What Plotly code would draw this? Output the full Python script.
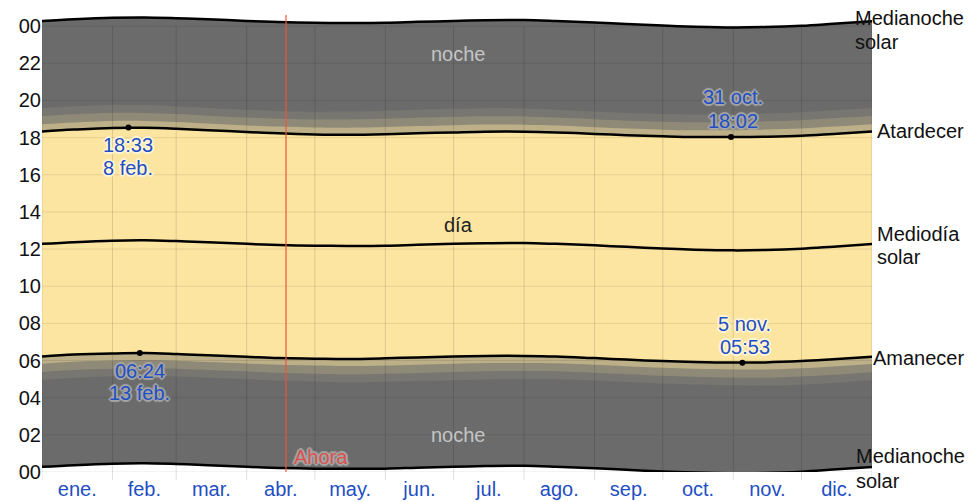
import plotly.graph_objects as go

# ---------------- data ----------------
# day of year (0 = 1 Jan) of the sample points
days = [0, 14, 31, 45, 59, 73, 90, 104, 120, 134, 151, 165, 181,
        195, 212, 226, 243, 257, 273, 287, 304, 318, 334, 348, 365]
# sunrise / sunset / solar noon in decimal hours
sunrise = [6.22, 6.32, 6.38, 6.40, 6.35, 6.28, 6.20, 6.13, 6.10, 6.08, 6.12, 6.17, 6.22,
           6.25, 6.25, 6.22, 6.13, 6.05, 5.97, 5.92, 5.89, 5.90, 5.97, 6.07, 6.20]
sunset = [18.33, 18.43, 18.52, 18.53, 18.48, 18.40, 18.30, 18.23, 18.17, 18.15, 18.18, 18.23, 18.28,
          18.32, 18.32, 18.28, 18.20, 18.13, 18.07, 18.03, 18.03, 18.05, 18.10, 18.20, 18.33]
noon = [12.28, 12.37, 12.45, 12.47, 12.43, 12.37, 12.28, 12.22, 12.18, 12.17, 12.18, 12.23, 12.28,
        12.32, 12.33, 12.28, 12.20, 12.12, 12.03, 11.97, 11.93, 11.95, 12.02, 12.13, 12.27]
# twilight durations (minutes beyond sunrise/sunset)
civil_min = [23.5, 23, 22.5, 22, 21.7, 21.5, 21.5, 21.8, 22.3, 22.8, 23.2, 23.5, 23.5,
             23.2, 22.7, 22.2, 21.7, 21.5, 21.5, 21.8, 22.3, 22.8, 23.2, 23.5, 23.5]
nautical_min = [50, 49.5, 49, 48, 47.5, 47, 47, 47.5, 48.5, 49.5, 50, 50.5, 50.5,
                50, 49, 48, 47.5, 47, 47, 47.5, 48.5, 49.5, 50, 50.5, 50]
astro_min = [76, 75.5, 74.5, 73.5, 72.5, 72, 72, 72.5, 73.5, 75, 76, 76.5, 76.5,
             76, 75, 73.5, 72.5, 72, 72, 72.5, 73.5, 75, 76, 76.5, 76]

month_starts = [0, 31, 59, 90, 120, 151, 181, 212, 243, 273, 304, 334, 365]
month_labels = ["ene.", "feb.", "mar.", "abr.", "may.", "jun.", "jul.",
                "ago.", "sep.", "oct.", "nov.", "dic."]
hour_ticks = list(range(0, 25, 2))
hour_labels = ["00", "02", "04", "06", "08", "10", "12", "14", "16", "18", "20", "22", "00"]

# extremes: (day, hours, time label, date label)
sunset_max = (38, 18.55, "18:33", "8 feb.")
sunrise_max = (43, 6.40, "06:24", "13 feb.")
sunset_min = (303, 18.033, "18:02", "31 oct.")
sunrise_min = (308, 5.883, "05:53", "5 nov.")
now_day = 107.3

# ---------------- derived curves ----------------
mid_bottom = [n - 12 for n in noon]
mid_top = [n + 12 for n in noon]
astro_dawn = [s - a / 60 for s, a in zip(sunrise, astro_min)]
naut_dawn = [s - a / 60 for s, a in zip(sunrise, nautical_min)]
civil_dawn = [s - a / 60 for s, a in zip(sunrise, civil_min)]
civil_dusk = [s + a / 60 for s, a in zip(sunset, civil_min)]
naut_dusk = [s + a / 60 for s, a in zip(sunset, nautical_min)]
astro_dusk = [s + a / 60 for s, a in zip(sunset, astro_min)]

NIGHT = "#6b6b6b"
ASTRO = "#787670"
NAUT = "#8f8a77"
CIVIL = "#bdb088"
DAY = "#fce4a1"
BLUE = "#1f4fc2"
FONT = "Liberation Sans, Arial, sans-serif"

fig = go.Figure()

# overlapping bands (each painted over the previous one -> no seams)
bands = [
    (mid_bottom, mid_top, NIGHT),
    (astro_dawn, astro_dusk, ASTRO),
    (naut_dawn, naut_dusk, NAUT),
    (civil_dawn, civil_dusk, CIVIL),
    (sunrise, sunset, DAY),
]
for lo, hi, col in bands:
    fig.add_trace(go.Scatter(
        x=days, y=lo, mode="lines",
        line=dict(width=0, shape="spline", smoothing=1.0),
        hoverinfo="skip", showlegend=False))
    fig.add_trace(go.Scatter(
        x=days, y=hi, mode="lines",
        line=dict(width=0, shape="spline", smoothing=1.0),
        fill="tonexty", fillcolor=col,
        hoverinfo="skip", showlegend=False))

for ys in [mid_bottom, sunrise, noon, sunset, mid_top]:
    fig.add_trace(go.Scatter(
        x=days, y=ys, mode="lines",
        line=dict(width=2.5, color="black", shape="spline", smoothing=1.0),
        hoverinfo="skip", showlegend=False))

ext = [sunset_max, sunrise_max, sunset_min, sunrise_min]
fig.add_trace(go.Scatter(
    x=[e[0] for e in ext], y=[e[1] for e in ext], mode="markers",
    marker=dict(size=6, color="black"), hoverinfo="skip", showlegend=False))

# ---------------- grid lines (drawn over the fills) ----------------
shapes = []
PLOT_H = 457
PX_PER_H = PLOT_H / 24.6
for h in hour_ticks:
    shapes.append(dict(type="line", xref="paper", x0=0, x1=1, yref="y", y0=h, y1=h,
                       line=dict(color="rgba(0,0,0,0.09)", width=1), layer="above"))
for d in month_starts:
    shapes.append(dict(type="line", xref="x", x0=d, x1=d, yref="paper",
                       y0=-8 / PLOT_H, y1=24 / 24.6,
                       line=dict(color="rgba(0,0,0,0.13)", width=1), layer="above"))
shapes.append(dict(type="line", xref="x", x0=now_day, x1=now_day, yref="paper", y0=0, y1=1,
                   line=dict(color="rgba(235,85,60,0.8)", width=1.5), layer="above"))


def halo(c):
    return (f"-1px -1px 1px {c}, 1px -1px 1px {c}, -1px 1px 1px {c}, 1px 1px 1px {c}, "
            f"-2px 0 1px {c}, 2px 0 1px {c}, 0 -2px 1px {c}, 0 2px 1px {c}")


annos = []


def txt(x, y, t, color, size=20, shadow=None, xanchor="center", xref="x"):
    f = dict(family=FONT, size=size, color=color)
    if shadow:
        f["shadow"] = shadow
    annos.append(dict(x=x, y=y, xref=xref, yref="y", text=t, showarrow=False,
                      xanchor=xanchor, yanchor="middle", font=f))


def dy(px):
    return px / PX_PER_H


light_halo = halo("#fff6d8")
grey_halo = halo("#a6a6a6")
# extremes labels
d, v, t1, t2 = sunset_max
txt(d, v - dy(17.5), t1, BLUE, shadow=light_halo)
txt(d, v - dy(40.5), t2, BLUE, shadow=light_halo)
d, v, t1, t2 = sunrise_max
txt(d, v - dy(18), t1, BLUE, shadow=grey_halo)
txt(d, v - dy(40), t2, BLUE, shadow=grey_halo)
d, v, t1, t2 = sunset_min
txt(d + 1, v + dy(16), t1, BLUE, shadow=grey_halo)
txt(d + 1, v + dy(40), t2, BLUE, shadow=grey_halo)
d, v, t1, t2 = sunrise_min
txt(d + 1, v + dy(16), t1, BLUE, shadow=light_halo)
txt(d + 1, v + dy(39), t2, BLUE, shadow=light_halo)

txt(183, 22.5, "noche", "#c4c4c4")
txt(183, 1.98, "noche", "#c4c4c4")
txt(183, 13.3, "día", "#222222")
txt(now_day + 2.5, 0.8, "Ahora", "#d9534f", shadow=grey_halo, xanchor="left")


# right side labels (paper coordinates so they are never hidden)
def rlab(px_left, py, t):
    annos.append(dict(x=(px_left - 42) / 830, y=(472 - py) / PLOT_H, xref="paper", yref="paper",
                      text=t, showarrow=False, xanchor="left", yanchor="middle",
                      font=dict(family=FONT, size=20, color="#111111")))


rlab(853, 18, "Medianoche")
rlab(853, 42, "solar")
rlab(875, 131, "Atardecer")
rlab(875, 234, "Mediodía")
rlab(875, 257, "solar")
rlab(871, 358, "Amanecer")
rlab(854, 456, "Medianoche")
rlab(854, 481, "solar")

mids = [(a + b) / 2 for a, b in zip(month_starts[:-1], month_starts[1:])]

fig.update_layout(
    width=972, height=502,
    margin=dict(l=42, r=100, t=15, b=30),
    paper_bgcolor="white", plot_bgcolor="white",
    shapes=shapes, annotations=annos,
    xaxis=dict(range=[0, 365], tickvals=mids, ticktext=month_labels, showgrid=False,
               zeroline=False, showline=False, ticks="", automargin=False,
               ticklabelstandoff=3,
               tickfont=dict(family=FONT, size=20, color=BLUE), fixedrange=True),
    yaxis=dict(range=[0, 24.6], tickvals=hour_ticks, ticktext=hour_labels, showgrid=False,
               zeroline=False, showline=False, ticks="", automargin=False,
               tickfont=dict(family=FONT, size=20, color="#111111"), fixedrange=True),
)

fig.write_html("out.html", config={"displayModeBar": False},
               post_script="document.body.style.margin='0';document.body.style.overflow='hidden';")
